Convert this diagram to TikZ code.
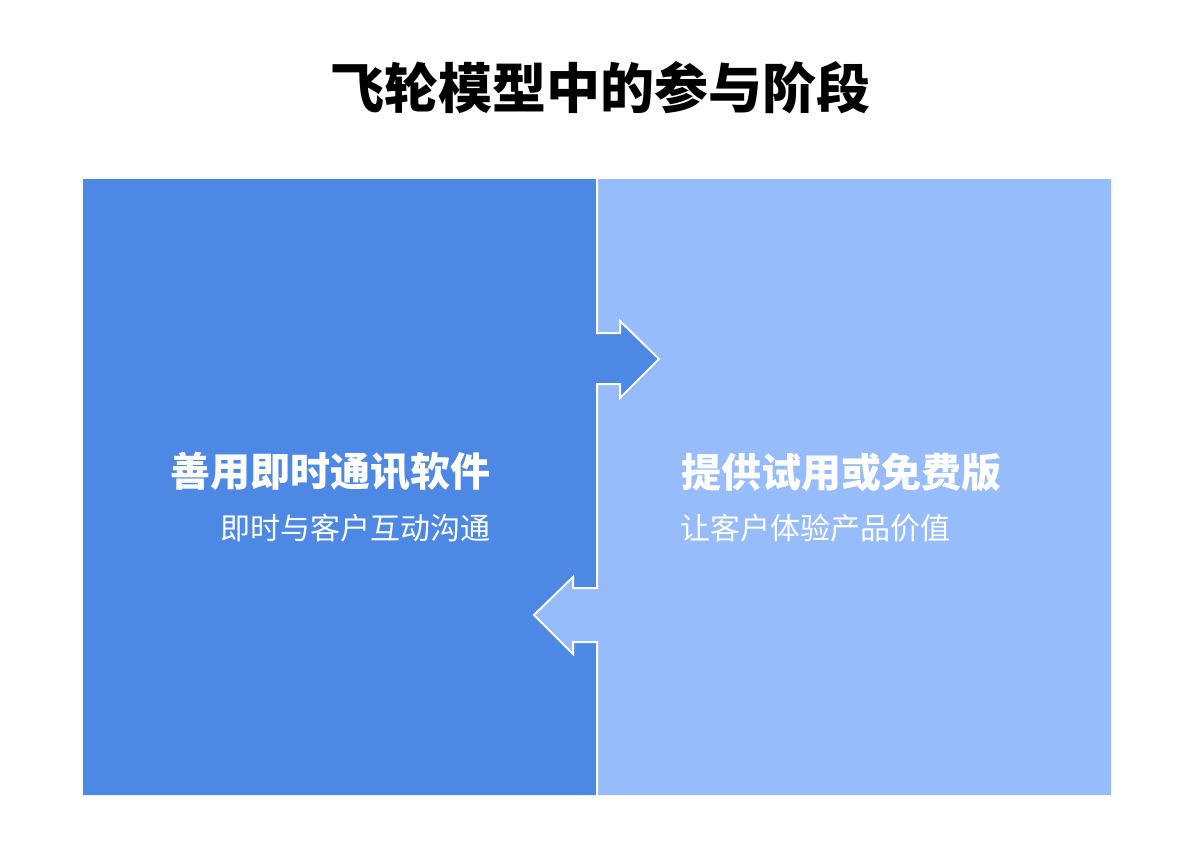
\documentclass[tikz,border=0pt]{standalone}
\usepackage{fontspec}
\newfontfamily\cjk{Noto Sans CJK SC}
\definecolor{darkblue}{RGB}{77,136,229}
\definecolor{lightblue}{RGB}{150,188,252}
\begin{document}
\begin{tikzpicture}[x=1pt,y=-1pt,
  titletext/.style={font=\cjk\bfseries\fontsize{54}{60}\selectfont, text=black, inner sep=0pt},
  headtext/.style={font=\cjk\bfseries\fontsize{40}{48}\selectfont, text=white, inner sep=0pt},
  subtext/.style={font=\cjk\fontsize{30}{36}\selectfont, text=white, inner sep=0pt},
  divider/.style={draw=white, line width=2pt, line join=miter}]
\useasboundingbox (0,0) rectangle (1200,857);
\fill[white] (0,0) rectangle (1200,857);
% right region
\fill[lightblue] (597,179) -- (1111,179) -- (1111,795) -- (597,795) -- (597,642) -- (573,642) -- (573,654) -- (534,615) -- (573,577) -- (573,588) -- (597,588) -- (597,384) -- (620,384) -- (620,398) -- (659,359) -- (620,321) -- (620,333) -- (597,333) -- cycle;
% left region
\fill[darkblue] (83,179) -- (597,179) -- (597,333) -- (620,333) -- (620,321) -- (659,359) -- (620,398) -- (620,384) -- (597,384) -- (597,588) -- (573,588) -- (573,577) -- (534,615) -- (573,654) -- (573,642) -- (597,642) -- (597,795) -- (83,795) -- cycle;
% divider
\draw[divider] (597,179) -- (597,333) -- (620,333) -- (620,321) -- (659,359) -- (620,398) -- (620,384) -- (597,384) -- (597,588) -- (573,588) -- (573,577) -- (534,615) -- (573,654) -- (573,642) -- (597,642) -- (597,795);
\node[titletext] (title) at (600,88) {飞轮模型中的参与阶段};
\node[headtext, anchor=east] (lhead) at (491,472) {善用即时通讯软件};
\node[subtext, anchor=east] (lsub) at (491,528) {即时与客户互动沟通};
\node[headtext, anchor=west] (rhead) at (681,472) {提供试用或免费版};
\node[subtext, anchor=west] (rsub) at (680,528) {让客户体验产品价值};
\end{tikzpicture}
\end{document}
